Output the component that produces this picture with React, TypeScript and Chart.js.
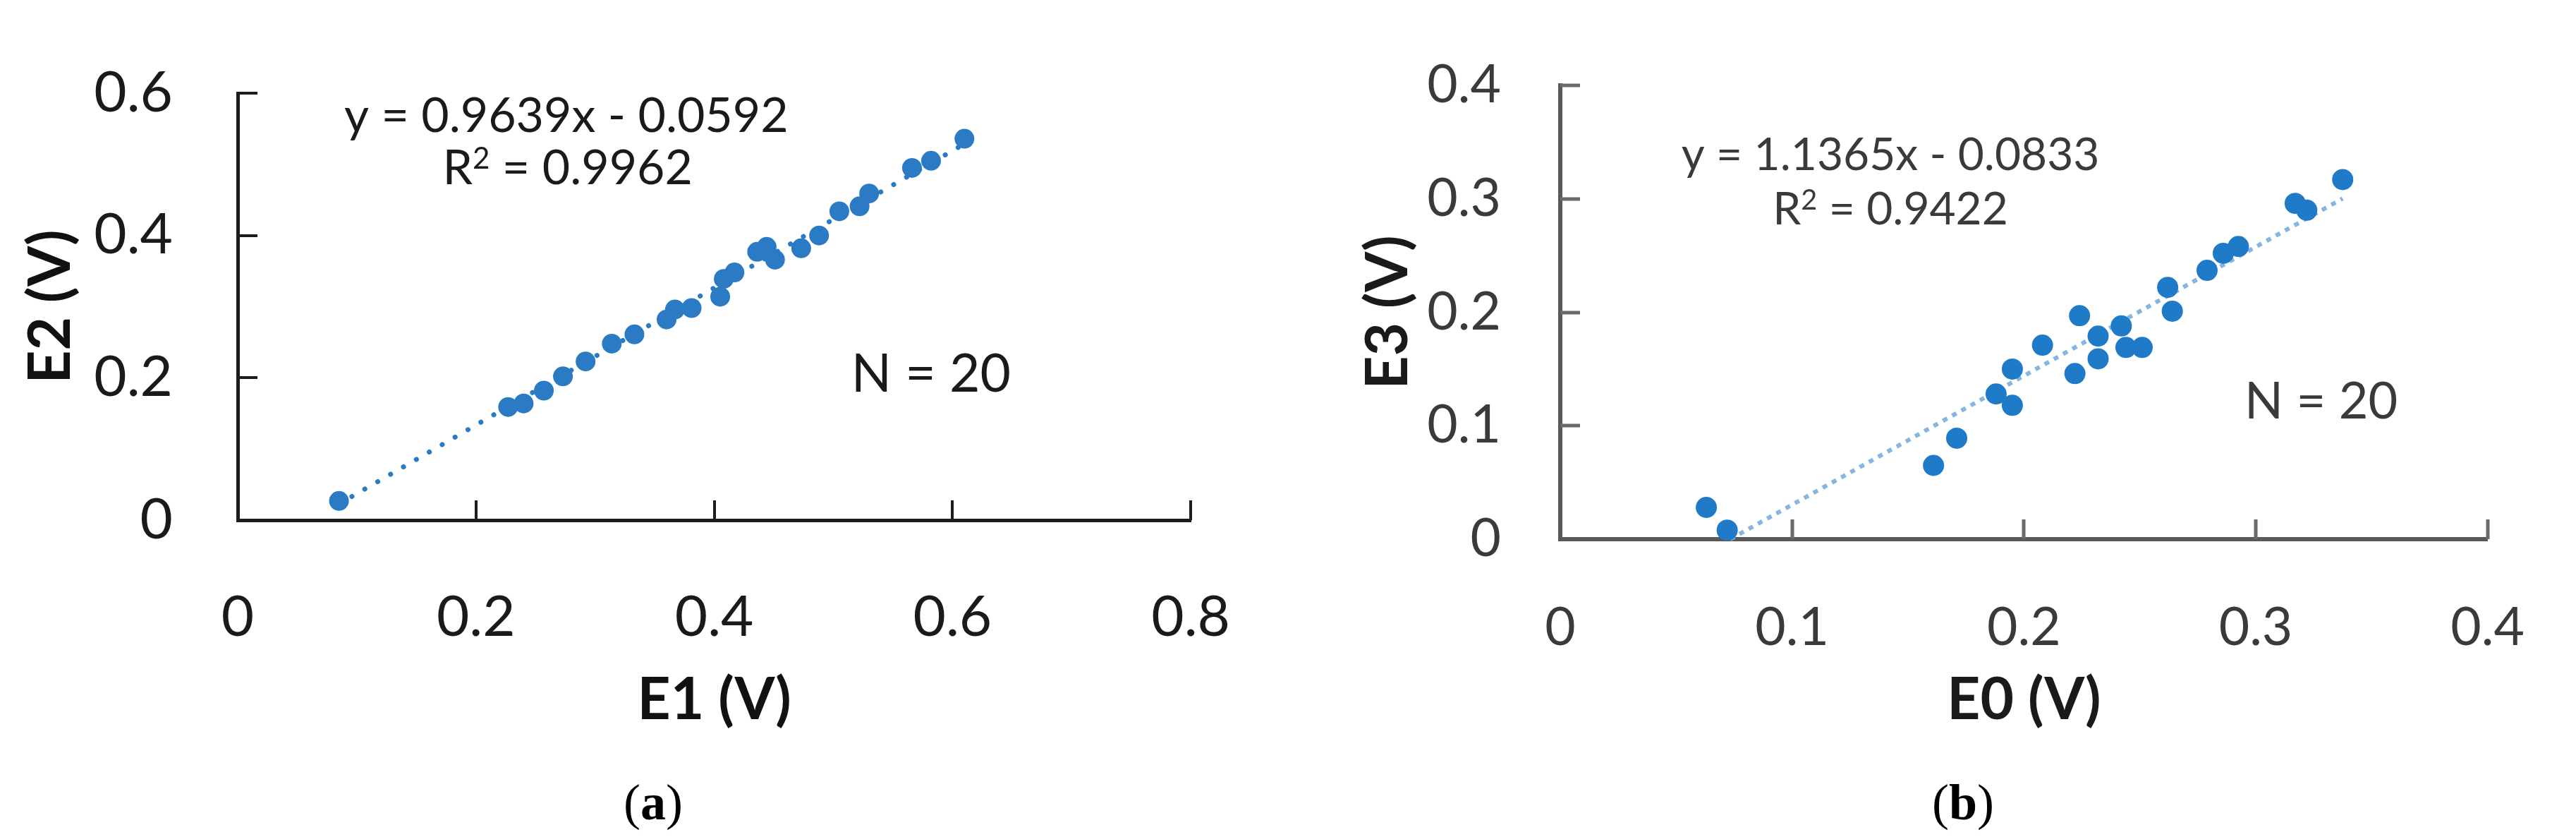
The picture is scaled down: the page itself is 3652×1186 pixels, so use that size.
import React, { useEffect, useRef } from 'react';
import { Chart, registerables } from 'chart.js';

Chart.register(...registerables);

// ---------- Panel (a) data ----------
const E1 = [0.085, 0.227, 0.240, 0.257, 0.273, 0.292, 0.314, 0.333, 0.360, 0.367, 0.381, 0.405, 0.408, 0.417, 0.436, 0.444, 0.451, 0.473, 0.488, 0.505, 0.522, 0.530, 0.566, 0.582, 0.610];
const E2 = [0.027, 0.159, 0.164, 0.182, 0.202, 0.223, 0.248, 0.261, 0.282, 0.296, 0.298, 0.314, 0.339, 0.348, 0.377, 0.384, 0.366, 0.382, 0.400, 0.434, 0.441, 0.459, 0.495, 0.505, 0.536];
const trendAX = [0.085, 0.610];
const trendAY = [0.0227, 0.5288];
const xTickValsA = [0, 0.2, 0.4, 0.6, 0.8];
const xTickLabelsA = ['0', '0.2', '0.4', '0.6', '0.8'];
const yTickValsA = [0, 0.2, 0.4, 0.6];
const yTickLabelsA = ['0', '0.2', '0.4', '0.6'];
const eqA = 'y = 0.9639x - 0.0592';
const r2A = ' = 0.9962';
const nA = 'N = 20';

// ---------- Panel (b) data ----------
const E0 = [0.063, 0.072, 0.161, 0.171, 0.188, 0.195, 0.195, 0.208, 0.222, 0.224, 0.232, 0.232, 0.242, 0.244, 0.251, 0.262, 0.264, 0.279, 0.286, 0.2925, 0.317, 0.322, 0.3375];
const E3 = [0.028, 0.008, 0.065, 0.089, 0.128, 0.118, 0.150, 0.171, 0.146, 0.197, 0.179, 0.159, 0.188, 0.169, 0.169, 0.222, 0.201, 0.237, 0.252, 0.258, 0.296, 0.290, 0.317];
const trendBX = [0.0733, 0.3375];
const trendBY = [0.0, 0.3003];
const xTickValsB = [0, 0.1, 0.2, 0.3, 0.4];
const xTickLabelsB = ['0', '0.1', '0.2', '0.3', '0.4'];
const yTickValsB = [0, 0.1, 0.2, 0.3, 0.4];
const yTickLabelsB = ['0', '0.1', '0.2', '0.3', '0.4'];
const eqB = 'y = 1.1365x - 0.0833';
const r2B = ' = 0.9422';
const nB = 'N = 20';

const FONT = 'Lato, "Open Sans", sans-serif';

const decorPlugin = {
  id: 'panelDecor',
  afterDraw(chart: any, _args: any, opts: any) {
    const { ctx, chartArea } = chart;
    const xs = chart.scales.x;
    const ys = chart.scales.y;
    ctx.save();
    ctx.strokeStyle = opts.tickColor;
    ctx.lineWidth = opts.tickWidth;
    const L = opts.tickLen;
    xs.ticks.forEach((t: any) => {
      if (t.value === xs.min) return;
      const px = Math.round(xs.getPixelForValue(t.value));
      ctx.beginPath();
      ctx.moveTo(px, chartArea.bottom);
      ctx.lineTo(px, chartArea.bottom - L);
      ctx.stroke();
    });
    ys.ticks.forEach((t: any) => {
      if (t.value === ys.min) return;
      const py = Math.round(ys.getPixelForValue(t.value));
      ctx.beginPath();
      ctx.moveTo(chartArea.left, py);
      ctx.lineTo(chartArea.left + L, py);
      ctx.stroke();
    });
    ctx.fillStyle = opts.textColor;
    ctx.textBaseline = 'middle';
    (opts.notes || []).forEach((n: any) => {
      const cx = xs.getPixelForValue(n.x);
      const cy = ys.getPixelForValue(n.y);
      const parts: any[] = n.parts;
      const widths = parts.map((pt: any) => {
        ctx.font = `${pt.sup ? n.size * 0.62 : n.size}px ${FONT}`;
        return ctx.measureText(pt.t).width;
      });
      const total = widths.reduce((a: number, b: number) => a + b, 0);
      let x = cx - total / 2;
      ctx.textAlign = 'left';
      parts.forEach((pt: any, i: number) => {
        ctx.font = `${pt.sup ? n.size * 0.62 : n.size}px ${FONT}`;
        ctx.fillText(pt.t, x, pt.sup ? cy - n.size * 0.2 : cy);
        x += widths[i];
      });
    });
    ctx.restore();
  },
};

function makeConfig(p: any) {
  return {
    type: 'scatter',
    data: {
      datasets: [
        {
          data: p.xs.map((x: number, i: number) => ({ x, y: p.ys[i] })),
          pointRadius: p.pointRadius,
          pointHoverRadius: p.pointRadius,
          pointBackgroundColor: p.pointColor,
          pointBorderWidth: 0,
          borderWidth: 0,
          order: 0,
          clip: false,
        },
        {
          data: p.tx.map((x: number, i: number) => ({ x, y: p.ty[i] })),
          showLine: true,
          pointRadius: 0,
          borderColor: p.trendColor,
          borderWidth: p.trendWidth,
          borderDash: p.trendDash,
          borderCapStyle: p.trendCap,
          order: 1,
          clip: false,
        },
      ],
    },
    options: {
      animation: false,
      responsive: false,
      devicePixelRatio: 1,
      events: [],
      layout: { padding: p.padding },
      plugins: {
        legend: { display: false },
        tooltip: { enabled: false },
        panelDecor: {
          tickColor: p.tickColor,
          tickWidth: p.tickWidth,
          tickLen: 28,
          textColor: p.textColor,
          notes: p.notes,
        },
      },
      scales: {
        x: {
          type: 'linear',
          min: p.xTickVals[0],
          max: p.xTickVals[p.xTickVals.length - 1],
          afterBuildTicks: (s: any) => {
            s.ticks = p.xTickVals.map((v: number) => ({ value: v }));
          },
          afterFit: (s: any) => {
            s.height = p.xScaleHeight;
          },
          grid: { display: false },
          border: { display: true, color: p.axisColor, width: p.axisWidth },
          ticks: {
            padding: p.xTickPad,
            color: p.textColor,
            font: { family: FONT, size: p.tickSize },
            maxRotation: 0,
            autoSkip: false,
            callback: (_v: any, i: number) => p.xTickLabels[i],
          },
          title: {
            display: true,
            text: p.xTitle,
            color: p.titleColor,
            font: { family: FONT, size: 82, weight: 'bold' },
            padding: { top: 0, bottom: p.xTitlePad },
          },
        },
        y: {
          type: 'linear',
          min: p.yTickVals[0],
          max: p.yTickVals[p.yTickVals.length - 1],
          afterBuildTicks: (s: any) => {
            s.ticks = p.yTickVals.map((v: number) => ({ value: v }));
          },
          afterFit: (s: any) => {
            s.width = p.yScaleWidth;
          },
          grid: { display: false },
          border: { display: true, color: p.axisColor, width: p.axisWidth },
          ticks: {
            padding: p.yTickPad,
            color: p.textColor,
            font: { family: FONT, size: p.tickSize },
            autoSkip: false,
            callback: (_v: any, i: number) => p.yTickLabels[i],
          },
          title: {
            display: true,
            text: p.yTitle,
            color: p.titleColor,
            font: { family: FONT, size: 82, weight: 'bold' },
            padding: { top: p.yTitlePad, bottom: 0 },
          },
        },
      },
    },
    plugins: [decorPlugin],
  };
}

const panelA = {
  xs: E1,
  ys: E2,
  tx: trendAX,
  ty: trendAY,
  pointRadius: 14,
  pointColor: '#2a7bc4',
  trendColor: '#2a7bc4',
  trendWidth: 7,
  trendDash: [0.1, 21],
  trendCap: 'round',
  padding: { left: 0, top: 65, right: 62, bottom: 139 },
  xScaleHeight: 310,
  yScaleWidth: 337,
  xTickPad: 82,
  yTickPad: 84,
  xTitlePad: 5,
  yTitlePad: 23,
  tickSize: 80,
  xTickVals: xTickValsA,
  xTickLabels: xTickLabelsA,
  yTickVals: yTickValsA,
  yTickLabels: yTickLabelsA,
  xTitle: 'E1 (V)',
  yTitle: 'E2 (V)',
  axisColor: '#1c1c1c',
  axisWidth: 5,
  tickColor: '#1c1c1c',
  tickWidth: 4,
  textColor: '#1a1a1a',
  titleColor: '#111111',
  notes: [
    { parts: [{ t: eqA }], x: 0.2758, y: 0.567, size: 68 },
    { parts: [{ t: 'R' }, { t: '2', sup: true }, { t: r2A }], x: 0.2769, y: 0.4938, size: 68 },
    { parts: [{ t: nA }], x: 0.5819, y: 0.2045, size: 75 },
  ],
};

const panelB = {
  xs: E0,
  ys: E3,
  tx: trendBX,
  ty: trendBY,
  pointRadius: 15,
  pointColor: '#1f7bc7',
  trendColor: '#86b6e0',
  trendWidth: 6,
  trendDash: [7, 8],
  trendCap: 'butt',
  padding: { left: 0, top: 52, right: 69, bottom: 112 },
  xScaleHeight: 310,
  yScaleWidth: 386,
  xTickPad: 73,
  yTickPad: 76,
  xTitlePad: 32,
  yTitlePad: 93,
  tickSize: 75,
  xTickVals: xTickValsB,
  xTickLabels: xTickLabelsB,
  yTickVals: yTickValsB,
  yTickLabels: yTickLabelsB,
  xTitle: 'E0 (V)',
  yTitle: 'E3 (V)',
  axisColor: '#595959',
  axisWidth: 6,
  tickColor: '#6a6a6a',
  tickWidth: 5,
  textColor: '#3a3a3a',
  titleColor: '#1a1a1a',
  notes: [
    { parts: [{ t: eqB }], x: 0.1424, y: 0.3379, size: 64 },
    { parts: [{ t: 'R' }, { t: '2', sup: true }, { t: r2B }], x: 0.1424, y: 0.2904, size: 64 },
    { parts: [{ t: nB }], x: 0.3282, y: 0.1208, size: 72 },
  ],
};

function Panel({ cfg, left }: { cfg: any; left: number }) {
  const ref = useRef<HTMLCanvasElement | null>(null);
  useEffect(() => {
    if (!ref.current) return;
    const chart = new Chart(ref.current, makeConfig(cfg) as any);
    return () => chart.destroy();
  }, [cfg]);
  return (
    <canvas
      ref={ref}
      width={1826}
      height={1186}
      style={{ position: 'absolute', left, top: 0, width: 1826, height: 1186 }}
    />
  );
}

const captionStyle = (cx: number): React.CSSProperties => ({
  position: 'absolute',
  left: cx,
  top: 1137,
  transform: 'translate(-50%, -50%)',
  fontFamily: '"Liberation Serif", "Times New Roman", serif',
  fontSize: 72,
  lineHeight: 1,
  color: '#000',
  whiteSpace: 'nowrap',
});

export default function App() {
  useEffect(() => {
    document.body.style.margin = '0';
    document.body.style.overflow = 'hidden';
  }, []);
  return (
    <div
      style={{
        position: 'absolute',
        left: 0,
        top: 0,
        width: 3652,
        height: 1186,
        background: '#ffffff',
        overflow: 'hidden',
      }}
    >
      <Panel cfg={panelA} left={0} />
      <Panel cfg={panelB} left={1826} />
      <div style={captionStyle(926)}>
        (<b>a</b>)
      </div>
      <div style={captionStyle(2783)}>
        (<b>b</b>)
      </div>
    </div>
  );
}
